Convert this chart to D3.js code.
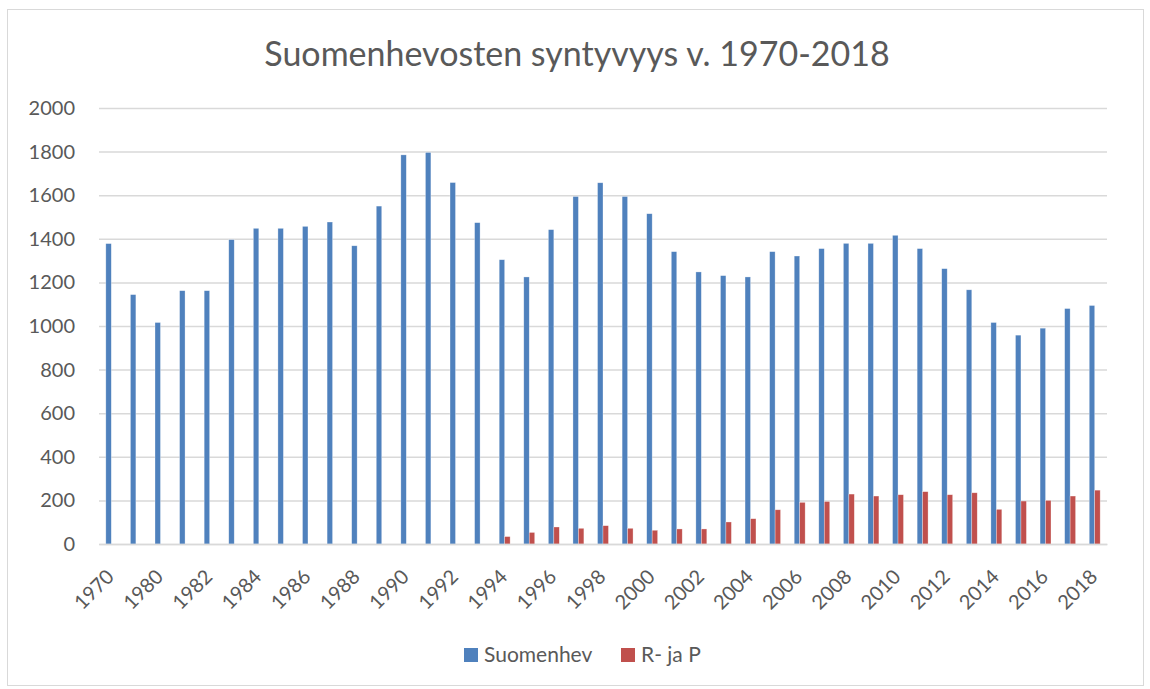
<!DOCTYPE html>
<html>
<head>
<meta charset="utf-8">
<script src="https://cdn.jsdelivr.net/npm/d3@7"></script>
<style>
  body { margin: 0; background: #fff; }
  text { font-family: Lato, "Open Sans", sans-serif; fill: #595959; }
</style>
</head>
<body>
<div id="container"></div>
<script>
'use strict';

const w = 1150;
const h = 689;

// Data.
const years = ['1970', '1975',
    '1980', '1981', '1982', '1983', '1984', '1985', '1986', '1987', '1988', '1989',
    '1990', '1991', '1992', '1993', '1994', '1995', '1996', '1997', '1998', '1999',
    '2000', '2001', '2002', '2003', '2004', '2005', '2006', '2007', '2008', '2009',
    '2010', '2011', '2012', '2013', '2014', '2015', '2016', '2017', '2018'];
const suomenhev = [1378, 1144,
    1016, 1162, 1162, 1396, 1448, 1448, 1457, 1477, 1368, 1550,
    1785, 1796, 1658, 1474, 1304, 1225, 1442, 1594, 1657, 1594,
    1515, 1341, 1248, 1231, 1225, 1341, 1321, 1355, 1379, 1379,
    1416, 1355, 1263, 1166, 1016, 958, 990, 1080, 1094];
const rJaP = [null, null,
    null, null, null, null, null, null, null, null, null, null,
    null, null, null, null, 34, 53, 78, 72, 84, 72,
    63, 69, 69, 101, 116, 157, 191, 195, 229, 220,
    226, 240, 226, 235, 159, 197, 200, 220, 247];
const seriesNames = ['Suomenhev', 'R- ja P'];
const colors = ['#4F81BD', '#C0504D'];
const yTicks = [0, 200, 400, 600, 800, 1000, 1200, 1400, 1600, 1800, 2000];

const margin = {top: 108, right: 43, bottom: 145, left: 99};

const svg = d3.select('#container')
    .append('svg')
    .attr('width', w)
    .attr('height', h);

// Chart frame.
svg.append('rect')
    .attr('x', 7.5).attr('y', 9.5)
    .attr('width', 1136).attr('height', 676)
    .attr('fill', 'none')
    .attr('stroke', '#D9D9D9');

// Title.
svg.append('text')
    .attr('x', 577)
    .attr('y', 66)
    .attr('text-anchor', 'middle')
    .style('font-size', '34px')
    .text('Suomenhevosten syntyvyys v. 1970-2018');

const xScale = d3.scaleBand()
    .domain(years)
    .range([margin.left, w - margin.right]);

const yScale = d3.scaleLinear()
    .domain([0, 2000])
    .range([h - margin.bottom, margin.top]);

const xSub = d3.scaleBand()
    .domain([0, 1])
    .range([0, xScale.bandwidth()])
    .paddingInner(0)
    .paddingOuter(1.25);

// Gridlines and y labels.
const yAxis = d3.axisLeft(yScale)
    .tickValues(yTicks)
    .tickFormat(d3.format('d'))
    .tickSize(-(w - margin.left - margin.right))
    .tickPadding(24);
const gy = svg.append('g')
    .attr('transform', 'translate(' + margin.left + ',0)')
    .call(yAxis);
gy.select('.domain').remove();
gy.selectAll('line')
    .attr('stroke', '#D9D9D9')
    .attr('stroke-width', 1.5);
gy.selectAll('text')
    .style('font-size', '20px')
    .attr('fill', '#595959');

// Bars.
const series = [suomenhev, rJaP];
series.forEach((values, si) => {
    svg.append('g')
        .selectAll('rect')
        .data(years.map((y, i) => ({year: y, value: values[i]})).filter(d => d.value != null))
        .enter()
        .append('rect')
        .attr('x', d => xScale(d.year) + xSub(si))
        .attr('y', d => yScale(d.value))
        .attr('width', xSub.bandwidth())
        .attr('height', d => yScale(0) - yScale(d.value))
        .attr('fill', colors[si])
        .attr('stroke', '#ffffff')
        .attr('stroke-opacity', 0.5)
        .attr('stroke-width', 0.6);
});

// x-axis.
const xAxis = d3.axisBottom(xScale)
    .tickValues(years.filter((y, i) => i % 2 === 0))
    .tickSize(0);
const gx = svg.append('g')
    .attr('transform', 'translate(0,' + yScale(0) + ')')
    .call(xAxis);
gx.select('.domain')
    .attr('stroke', '#D9D9D9')
    .attr('stroke-width', 1.5);
gx.selectAll('text')
    .style('font-size', '20px')
    .attr('fill', '#595959')
    .attr('text-anchor', 'end')
    .attr('y', 0)
    .attr('dy', 0)
    .attr('transform', 'translate(4,34) rotate(-45)');

// Legend.
const legendX = [464, 621];
const legend = svg.append('g');
seriesNames.forEach((name, i) => {
    legend.append('rect')
        .attr('x', legendX[i])
        .attr('y', 648)
        .attr('width', 14)
        .attr('height', 14)
        .attr('fill', colors[i]);
    legend.append('text')
        .attr('x', legendX[i] + 20)
        .attr('y', 662)
        .style('font-size', '21px')
        .text(name);
});
</script>
</body>
</html>
